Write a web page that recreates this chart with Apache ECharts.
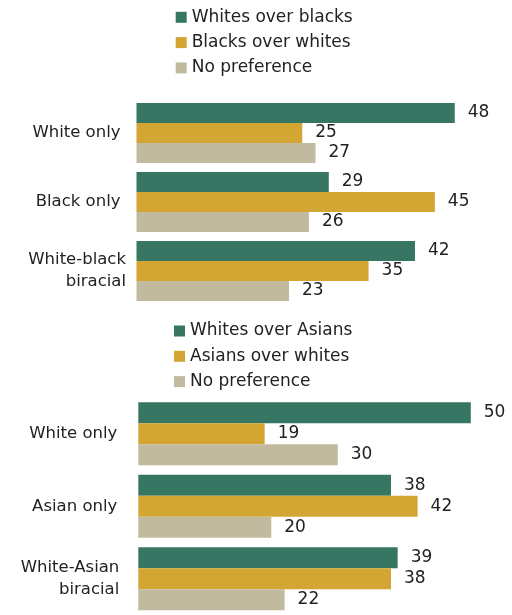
<!DOCTYPE html>
<html>
<head>
<meta charset="utf-8">
<script src="https://cdn.jsdelivr.net/npm/echarts@6/dist/echarts.min.js"></script>
<style>
  html, body { margin: 0; padding: 0; background: #fff; }
  #chart { width: 512px; height: 615px; }
</style>
</head>
<body>
<div id="chart"></div>
<script>
// Preferences by racial identity (percent)
const categoriesTop = ['White only', 'Black only', 'White-black\nbiracial'];
const whitesOverBlacks = [48, 29, 42];
const blacksOverWhites = [25, 45, 35];
const noPreferenceTop = [27, 26, 23];

const categoriesBottom = ['White only', 'Asian only', 'White-Asian\nbiracial'];
const whitesOverAsians = [50, 38, 39];
const asiansOverWhites = [19, 42, 38];
const noPreferenceBottom = [30, 20, 22];

const namesTop = ['Whites over blacks', 'Blacks over whites', 'No preference'];
const namesBottom = ['Whites over Asians', 'Asians over whites', 'No preference'];

const GREEN = '#387664';
const GOLD = '#d3a532';
const TAN = '#c1ba9e';
const TEXT = '#222222';
const FONT = 'DejaVu Sans';

const chart = echarts.init(document.getElementById('chart'), null, { renderer: 'canvas' });

function valueAxis(gridIndex) {
  return {
    type: 'value', gridIndex, min: 0, max: 56,
    show: false, splitLine: { show: false }
  };
}

function categoryAxis(gridIndex, data, margin, singlePad) {
  return {
    type: 'category', gridIndex, data, inverse: true,
    axisLine: { show: false }, axisTick: { show: false },
    axisLabel: {
      margin,
      color: TEXT, fontFamily: FONT, fontSize: 16.5, lineHeight: 22,
      align: 'right',
      formatter: v => v.indexOf('\n') >= 0 ? v : '{s|' + v + '}',
      rich: { s: { color: TEXT, fontFamily: FONT, fontSize: 16.5, padding: [0, singlePad, 0, 0] } }
    }
  };
}

function barSeries(name, data, color, idx) {
  return {
    type: 'bar', name, data,
    xAxisIndex: idx, yAxisIndex: idx,
    itemStyle: { color },
    barGap: '0%', barCategoryGap: '13%',
    label: {
      show: true, position: 'right', distance: 13,
      color: TEXT, fontFamily: FONT, fontSize: 17
    },
    emphasis: { disabled: true }
  };
}

function legend(data, left, top) {
  return {
    data, orient: 'vertical', left, top, padding: 0,
    icon: 'rect', itemWidth: 11, itemHeight: 11, itemGap: 8.3,
    textStyle: { color: TEXT, fontFamily: FONT, fontSize: 17, lineHeight: 17 },
    selectedMode: false
  };
}

chart.setOption({
  animation: false,
  backgroundColor: '#ffffff',
  legend: [
    legend(namesTop, 175.7, 8.8),
    legend(namesBottom, 174, 322.5)
  ],
  grid: [
    { left: 136.5, top: 98.5, width: 371.3, height: 207 },
    { left: 138.3, top: 397.5, width: 372.4, height: 224 }
  ],
  xAxis: [valueAxis(0), valueAxis(1)],
  yAxis: [
    categoryAxis(0, categoriesTop, 10.5, 5.5),
    categoryAxis(1, categoriesBottom, 19, 2)
  ],
  series: [
    barSeries(namesTop[0], whitesOverBlacks, GREEN, 0),
    barSeries(namesTop[1], blacksOverWhites, GOLD, 0),
    barSeries(namesTop[2], noPreferenceTop, TAN, 0),
    barSeries(namesBottom[0], whitesOverAsians, GREEN, 1),
    barSeries(namesBottom[1], asiansOverWhites, GOLD, 1),
    barSeries(namesBottom[2], noPreferenceBottom, TAN, 1)
  ]
});
</script>
</body>
</html>
